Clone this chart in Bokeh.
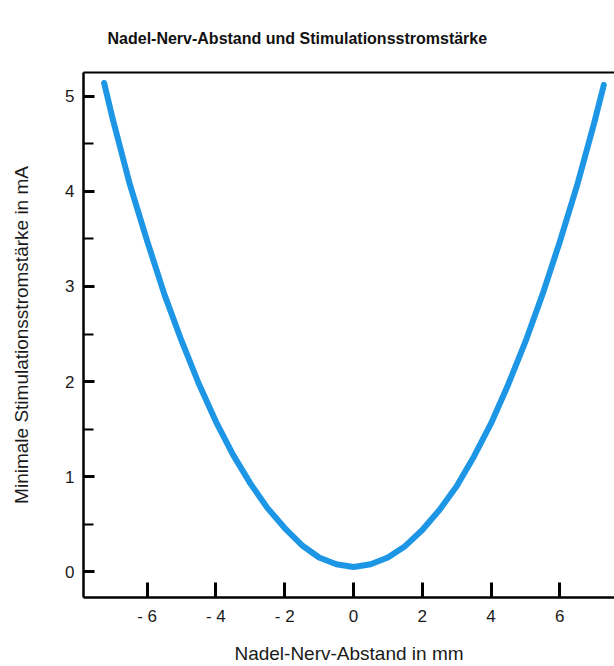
from bokeh.plotting import figure
from bokeh.models import FixedTicker, LinearAxis, Range1d
from bokeh.embed import file_html
from bokeh.resources import INLINE

# Data (distance in mm, minimal current in mA)
distance_mm = [-7.25, -7.0, -6.5, -6.0, -5.5, -5.0, -4.5, -4.0, -3.5, -3.0,
               -2.5, -2.0, -1.5, -1.0, -0.5, 0.0, 0.5, 1.0, 1.5, 2.0,
               2.5, 3.0, 3.5, 4.0, 4.5, 5.0, 5.5, 6.0, 6.5, 7.0, 7.28]
current_mA = [5.14, 4.76, 4.07, 3.48, 2.92, 2.43, 1.98, 1.58, 1.23, 0.93,
              0.67, 0.46, 0.28, 0.15, 0.08, 0.05, 0.08, 0.15, 0.27, 0.44,
              0.65, 0.90, 1.21, 1.56, 1.97, 2.42, 2.92, 3.47, 4.06, 4.72, 5.12]

x_ticks = [-6, -4, -2, 0, 2, 4, 6]
x_tick_labels = ["- 6", "- 4", "- 2", "0", "2", "4", "6"]
y_ticks = [0, 1, 2, 3, 4, 5]
y_minor_ticks = [0.5, 1.5, 2.5, 3.5, 4.5]

title_text = "Nadel-Nerv-Abstand und Stimulationsstromstärke"
x_label = "Nadel-Nerv-Abstand in mm"
y_label = "Minimale Stimulationsstromstärke in mA"

FONT = "Liberation Sans"
TXT = "#1a1a1a"

p = figure(width=614, height=666, output_backend="svg", toolbar_location=None,
           x_range=Range1d(-7.85, 7.59), y_range=Range1d(-0.27, 5.25),
           min_border_left=83, min_border_right=0, min_border_top=72,
           min_border_bottom=66, x_axis_type=None, y_axis_type=None)

p.outline_line_color = None
p.grid.visible = False
p.background_fill_color = "white"
p.border_fill_color = "white"

p.title.text = title_text
p.title.text_font = FONT
p.title.text_font_size = "16px"
p.title.text_font_style = "bold"
p.title.text_color = "#111"
p.title.align = "left"
p.title.offset = 24
p.title.vertical_align = "top"
p.title.standoff = 48

# bottom axis
xa = LinearAxis(ticker=FixedTicker(ticks=x_ticks, minor_ticks=[]))
xa.major_label_overrides = {t: l for t, l in zip(x_ticks, x_tick_labels)}
xa.major_tick_in = 15
xa.major_tick_out = 0
xa.major_tick_line_width = 3
xa.minor_tick_in = 0
xa.minor_tick_out = 0
xa.axis_line_width = 2.5
xa.major_label_standoff = 9
xa.major_label_text_font = FONT
xa.major_label_text_font_size = "17px"
xa.major_label_text_color = TXT
xa.axis_label = x_label
xa.axis_label_text_font = FONT
xa.axis_label_text_font_size = "19px"
xa.axis_label_text_font_style = "normal"
xa.axis_label_text_color = TXT
xa.axis_label_standoff = 14
p.add_layout(xa, "below")

# left axis
ya = LinearAxis(ticker=FixedTicker(ticks=y_ticks, minor_ticks=y_minor_ticks))
ya.major_tick_in = 11
ya.major_tick_out = 0
ya.major_tick_line_width = 3
ya.minor_tick_in = 10
ya.minor_tick_out = 0
ya.minor_tick_line_width = 2
ya.axis_line_width = 2.5
ya.major_label_standoff = 9
ya.major_label_text_font = FONT
ya.major_label_text_font_size = "17px"
ya.major_label_text_color = TXT
ya.axis_label = y_label
ya.axis_label_text_font = FONT
ya.axis_label_text_font_size = "19px"
ya.axis_label_text_font_style = "normal"
ya.axis_label_text_color = TXT
ya.axis_label_standoff = 30
p.add_layout(ya, "left")

# top frame line
ta = LinearAxis(ticker=FixedTicker(ticks=[]))
ta.major_tick_in = 0
ta.major_tick_out = 0
ta.minor_tick_in = 0
ta.minor_tick_out = 0
ta.major_label_text_font_size = "0px"
ta.axis_line_width = 2
p.add_layout(ta, "above")

p.line(distance_mm, current_mA, line_color="#1e96e6", line_width=6,
       line_cap="round", line_join="round")

open("out.html", "w").write(file_html(p, INLINE))
